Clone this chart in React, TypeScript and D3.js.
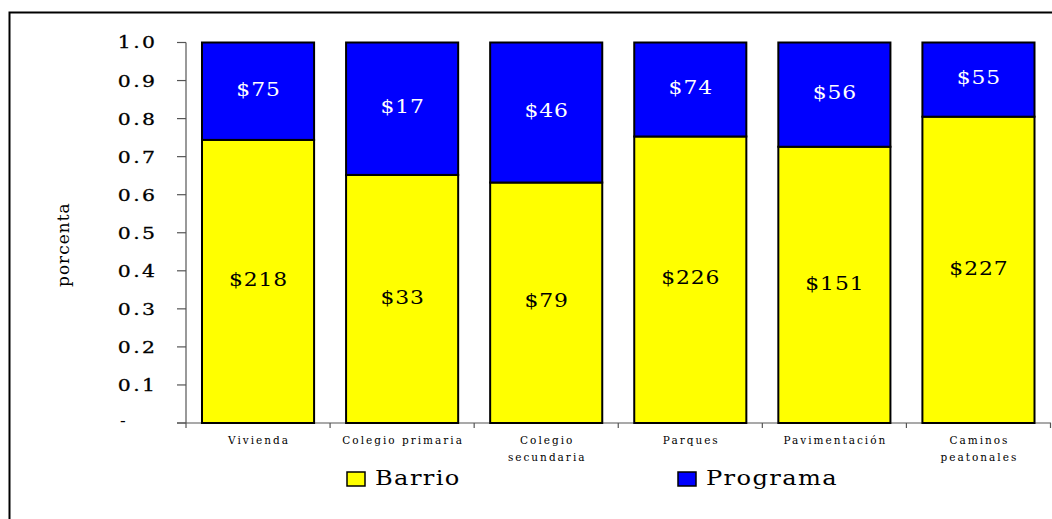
import React from "react";
import * as d3 from "d3";

const categories: string[][] = [
  ["Vivienda"],
  ["Colegio primaria"],
  ["Colegio", "secundaria"],
  ["Parques"],
  ["Pavimentación"],
  ["Caminos", "peatonales"],
];
const barrioLabels = ["$218", "$33", "$79", "$226", "$151", "$227"];
const programaLabels = ["$75", "$17", "$46", "$74", "$56", "$55"];
// share of Barrio in each bar
const barrioShare = [0.744, 0.652, 0.632, 0.753, 0.726, 0.805];
const yTicks = [0, 0.1, 0.2, 0.3, 0.4, 0.5, 0.6, 0.7, 0.8, 0.9, 1.0];
const seriesNames = ["Barrio", "Programa"];
const seriesColors = ["#FFFF00", "#0000FF"];

const FONT = "'DejaVu Serif', serif";

function WText(props: { x: number; y: number; sx?: number; children: React.ReactNode; [k: string]: any }) {
  const { x, y, sx = 1.15, children, ...rest } = props;
  return (
    <text transform={`translate(${x},${y}) scale(${sx},1)`} fontFamily={FONT} {...rest}>
      {children}
    </text>
  );
}

export default function App() {
  const W = 1052, H = 519;
  const x = d3.scaleBand<number>().domain(d3.range(categories.length)).range([186, 1050.5]).paddingInner(0.222).paddingOuter(0.111);
  const y = d3.scaleLinear().domain([0, 1]).range([423, 42.5]);
  const bandStep = x.step();
  const boundaries = d3.range(categories.length + 1).map((i) => 186 + i * bandStep);

  return (
    <svg width={W} height={H} style={{ position: "absolute", left: 0, top: 0, background: "#fff" }}>
      {/* outer frame */}
      <path d="M9.5,530 V12.5 H1060" fill="none" stroke="#000" strokeWidth={2} />
      {/* y axis */}
      <line x1={186} x2={186} y1={y(1)} y2={y(0)} stroke="#555" strokeWidth={1.2} />
      {yTicks.map((t) => (
        <g key={t}>
          <line x1={177} x2={186} y1={y(t)} y2={y(t)} stroke="#555" strokeWidth={1.2} />
          {t === 0 ? (
            <text x={120} y={y(t)} dy="0.2em" textAnchor="start" fontFamily={FONT} fontSize={17} fill="#000">-</text>
          ) : (
            <WText x={157.5} y={y(t)} sx={1.2} dy="0.35em" textAnchor="end" fontSize={17} letterSpacing={2} fill="#000" stroke="#000" strokeWidth={0.3}>
              {d3.format(".1f")(t)}
            </WText>
          )}
        </g>
      ))}
      {/* x axis */}
      <line x1={177} x2={1051} y1={y(0)} y2={y(0)} stroke="#555" strokeWidth={1.2} />
      {boundaries.map((b, i) => (
        <line key={i} x1={b} x2={b} y1={y(0)} y2={y(0) + 5} stroke="#555" strokeWidth={1.2} />
      ))}
      {/* bars */}
      {categories.map((c, i) => {
        const x0 = x(i)!;
        const bw = x.bandwidth();
        const s = barrioShare[i];
        return (
          <g key={i}>
            <rect x={x0} y={y(s)} width={bw} height={y(0) - y(s)} fill={seriesColors[0]} stroke="#000" strokeWidth={2} />
            <rect x={x0} y={y(1)} width={bw} height={y(s) - y(1)} fill={seriesColors[1]} stroke="#000" strokeWidth={2} />
            <WText x={x0 + bw / 2 + 0.5} y={(y(s) + y(1)) / 2 - 2} sx={1.15} dy="0.35em" textAnchor="middle" fontSize={19} letterSpacing={0.8} fill="#fff">
              {programaLabels[i]}
            </WText>
            <WText x={x0 + bw / 2 + 0.5} y={(y(s) + y(0)) / 2 - 2} sx={1.15} dy="0.35em" textAnchor="middle" fontSize={19} letterSpacing={0.8} fill="#000">
              {barrioLabels[i]}
            </WText>
            {c.map((line, k) => (
              <text key={k} x={x0 + bw / 2 + 1} y={444 + k * 17} textAnchor="middle" fontFamily={FONT} fontSize={10.5} letterSpacing={2} fill="#000">
                {line}
              </text>
            ))}
          </g>
        );
      })}
      {/* y title */}
      <text transform="translate(69,287) rotate(-90)" textAnchor="start" fontFamily={FONT} fontSize={17} letterSpacing={1} fill="#000">
        porcenta
      </text>
      {/* legend */}
      {seriesNames.map((n, i) => {
        const lx = i === 0 ? 347 : 678;
        return (
          <g key={n}>
            <rect x={lx} y={472} width={18} height={14} fill={seriesColors[i]} stroke="#000" strokeWidth={1.5} />
            <WText x={lx + 28} y={485} sx={1.15} fontSize={21} letterSpacing={1.2} fill="#000">
              {n}
            </WText>
          </g>
        );
      })}
    </svg>
  );
}
